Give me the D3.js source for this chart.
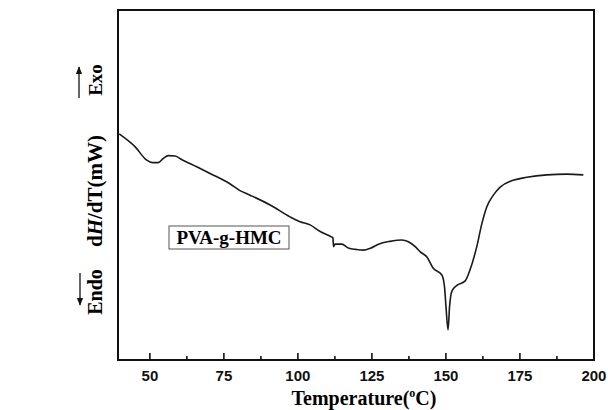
<!DOCTYPE html>
<html>
<head>
<meta charset="utf-8">
<script src="https://cdn.jsdelivr.net/npm/d3@7"></script>
<style>
  body { margin: 0; background: #fff; }
  svg { display: block; }
</style>
</head>
<body>
<div id="chart"></div>
<script>
// DSC trace (temperature in degC, heat flow in arbitrary units)
var temperature = [39.8, 45.2, 49.1, 51.1, 53.0, 54.7, 56.4, 58.7, 60.9, 66.0,
  70.5, 77.3, 80.6, 84.0, 90.8, 97.5, 100.9, 104.3, 107.7, 111.6,
  112.0, 112.2, 112.7, 115.0, 117.2, 119.8, 122.3, 124.6, 127.4, 131.3,
  135.3, 137.5, 139.8, 141.5, 143.7, 145.9, 148.8, 149.7, 150.2, 150.9,
  151.4, 152.2, 153.9, 156.7, 158.3, 160.6, 162.3, 164.0, 166.2, 168.5,
  172.4, 177.5, 184.3, 191.0, 196.6];
var heatFlow = [64.6, 60.9, 57.1, 56.4, 56.4, 57.6, 58.4, 58.3, 57.3, 55.2,
  53.3, 50.3, 48.4, 47.1, 44.3, 40.9, 39.5, 38.6, 36.7, 35.1,
  34.9, 32.4, 33.1, 33.1, 32.0, 31.6, 31.4, 31.9, 33.1, 33.9,
  34.3, 33.8, 32.4, 30.9, 29.5, 26.2, 24.3, 20.9, 15.2, 8.6,
  15.2, 19.7, 21.3, 22.6, 25.7, 32.4, 38.9, 43.8, 47.1, 49.4,
  51.2, 52.2, 52.9, 53.1, 52.9];
var majorTicks = [50, 75, 100, 125, 150, 175, 200];
var minorTicks = [62.5, 87.5, 112.5, 137.5, 162.5, 187.5];
var sampleLabel = "PVA-g-HMC";

var margin = {top: 10, right: 14, bottom: 50, left: 118},
  width = 608 - margin.left - margin.right,
  height = 410 - margin.top - margin.bottom;

var svg = d3.select("#chart")
  .append("svg")
    .attr("width", 608)
    .attr("height", 410)
  .append("g")
    .attr("transform", "translate(" + margin.left + "," + margin.top + ")");

var x = d3.scaleLinear()
  .domain([39.4, 200.2])
  .range([0, width]);
var y = d3.scaleLinear()
  .domain([0, 100])
  .range([height, 0]);

var data = temperature.map(function(t, i) { return {t: t, v: heatFlow[i]}; });

// minor ticks (inward)
svg.append("g")
  .attr("transform", "translate(0," + height + ")")
  .call(d3.axisBottom(x).tickValues(minorTicks).tickSizeInner(-4).tickSizeOuter(0).tickFormat(""))
  .call(function(g) { g.select(".domain").remove(); })
  .selectAll("line").attr("stroke", "#111").attr("stroke-width", 1.6);

// major ticks (inward)
var xAxis = svg.append("g")
  .attr("transform", "translate(0," + height + ")")
  .call(d3.axisBottom(x).tickValues(majorTicks).tickSizeInner(-7).tickSizeOuter(0).tickPadding(10).tickFormat(d3.format("d")));
xAxis.select(".domain").remove();
xAxis.selectAll("line").attr("stroke", "#111").attr("stroke-width", 1.6);
xAxis.selectAll("text")
  .attr("fill", "#111")
  .style("font-family", "Liberation Sans, Arial, sans-serif")
  .style("font-weight", "bold")
  .style("font-size", "15px");

// frame
svg.append("rect")
  .attr("width", width)
  .attr("height", height)
  .attr("fill", "none")
  .attr("stroke", "#111")
  .attr("stroke-width", 2);

// curve
var line = d3.line()
  .x(function(d) { return x(d.t); })
  .y(function(d) { return y(d.v); })
  .curve(d3.curveMonotoneX);

svg.append("path")
  .datum(data)
  .attr("fill", "none")
  .attr("stroke", "#1a1a1a")
  .attr("stroke-width", 1.6)
  .attr("d", line);

var serif = "Liberation Serif, Times New Roman, serif";

// sample label box
var lab = svg.append("g").attr("transform", "translate(51,216)");
lab.append("rect")
  .attr("width", 120)
  .attr("height", 23)
  .attr("fill", "#fff")
  .attr("stroke", "#555")
  .attr("stroke-width", 1);
lab.append("text")
  .attr("x", 60)
  .attr("y", 18)
  .attr("text-anchor", "middle")
  .style("font-family", serif)
  .style("font-weight", "bold")
  .style("font-size", "19px")
  .text(sampleLabel);

// x title
var xt = svg.append("text")
  .attr("x", 246)
  .attr("y", 395)
  .attr("text-anchor", "middle")
  .style("font-family", serif)
  .style("font-weight", "bold")
  .style("font-size", "20px");
xt.append("tspan").text("Temperature(");
xt.append("tspan").attr("dy", -8).style("font-size", "12px").text("o");
xt.append("tspan").attr("dy", 8).text("C)");

// y title and Exo / Endo
function vtext(cx, cy, size, parts) {
  var t = svg.append("text")
    .attr("transform", "translate(" + cx + "," + cy + ") rotate(-90)")
    .attr("text-anchor", "middle")
    .style("font-family", serif)
    .style("font-weight", "bold")
    .style("font-size", size + "px");
  parts.forEach(function(p) {
    t.append("tspan").style("font-style", p[1] ? "italic" : "normal").text(p[0]);
  });
}
vtext(-16, 181, 21, [["d", false], ["H", true], ["/dT(mW)", false]]);
vtext(-16, 70, 19, [["Exo", false]]);
vtext(-16, 282, 20, [["Endo", false]]);

// arrows
var defs = svg.append("defs");
defs.append("marker")
  .attr("id", "ah")
  .attr("viewBox", "0 0 10 10")
  .attr("refX", 9).attr("refY", 5)
  .attr("markerWidth", 6).attr("markerHeight", 6)
  .attr("orient", "auto")
  .append("path").attr("d", "M0,1L10,5L0,9Z").attr("fill", "#111");

svg.append("line")
  .attr("x1", -39).attr("y1", 88).attr("x2", -39).attr("y2", 57)
  .attr("stroke", "#111").attr("stroke-width", 1.3)
  .attr("marker-end", "url(#ah)");
svg.append("line")
  .attr("x1", -38).attr("y1", 263).attr("x2", -38).attr("y2", 295)
  .attr("stroke", "#111").attr("stroke-width", 1.3)
  .attr("marker-end", "url(#ah)");
</script>
</body>
</html>
